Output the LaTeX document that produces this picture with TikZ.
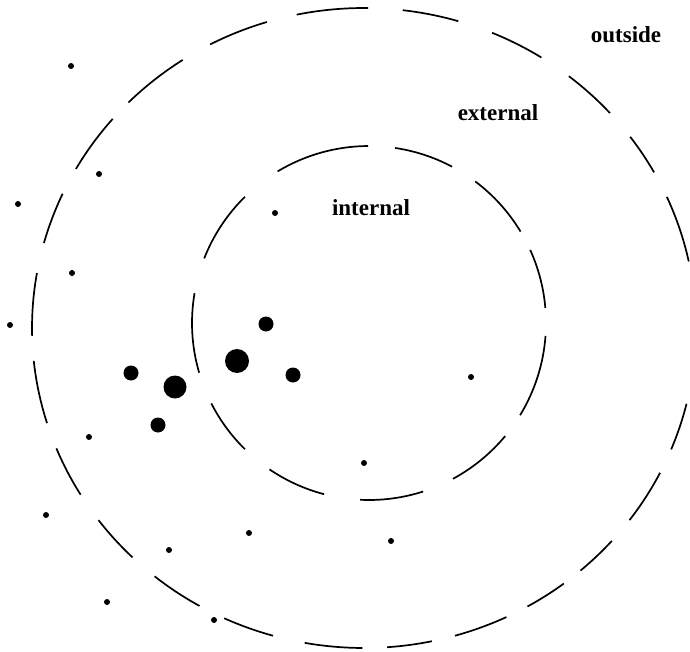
\documentclass[tikz,border=0pt]{standalone}
\usepackage{fontspec}
\setmainfont{Liberation Serif}
\usepackage{tikz}
\tikzset{%
  ring/.style={line width=0.85pt},
  zone/.style={font=\bfseries\fontsize{11.5}{14}\selectfont, inner sep=0pt},
}

\begin{document}
\begin{tikzpicture}[x=0.5pt, y=-0.5pt]
    \useasboundingbox (0,0) rectangle (690,652);
    \coordinate (O) at (364,328);
    \coordinate (I) at (369,323);

    %outer ring, dash by dash
    \foreach \a/\b in {0/8, 13.7/22.3, 26.9/36.9, 41.7/49.3, 53/60.5, 64.6/74.1,
        78.2/86, 90.3/100.3, 105.9/114.9, 119.7/129.1, 134.2/143.1, 148.6/157.9,
        162.7/174.1, 178.6/189.9, 195.4/204.8, 209.8/220.8, 224.8/236.9,
        242.4/253, 258.3/270.7, 276.7/286.5, 292.7/302.3, 308.1/317.8,
        323.3/330.9, 335.8/348}
      \draw[ring] (O) ++(\a:332 and 320) arc[start angle=\a, end angle=\b, x radius=332, y radius=320];

    %inner ring
    \foreach \a/\b in {4.2/31.4, 39.7/61.7, 72.2/92.9, 104.7/124.2, 134.5/153,
        163.7/189.7, 201.4/225.5, 238.9/269.7, 278.5/298, 306.9/328.9, 335.6/355.1}
      \draw[ring] (I) ++(\a:177) arc[start angle=\a, end angle=\b, radius=177];

    %zone labels
    \node[zone] (outside) at (626,35) {outside};
    \node[zone] (external) at (498,113) {external};
    \node[zone] (internal) at (371,208) {internal};

    %small points
    \fill (71,66) circle (3);
    \fill (99,174) circle (3);
    \fill (18,204) circle (3);
    \fill (72,273) circle (3);
    \fill (10,325) circle (3);
    \fill (275,213) circle (3);
    \fill (89,437) circle (3);
    \fill (46,515) circle (3);
    \fill (169,550) circle (3);
    \fill (249,533) circle (3);
    \fill (107,602) circle (3);
    \fill (214,620) circle (3);
    \fill (471,377) circle (3);
    \fill (364,463) circle (3);
    \fill (391,541) circle (3);

    %big points
    \fill (266,324) circle (7.5);
    \fill (237,361) circle (12);
    \fill (293,375) circle (7.5);
    \fill (131,373) circle (7.5);
    \fill (175,387) circle (11.5);
    \fill (158,425) circle (7.5);
\end{tikzpicture}
\end{document}
